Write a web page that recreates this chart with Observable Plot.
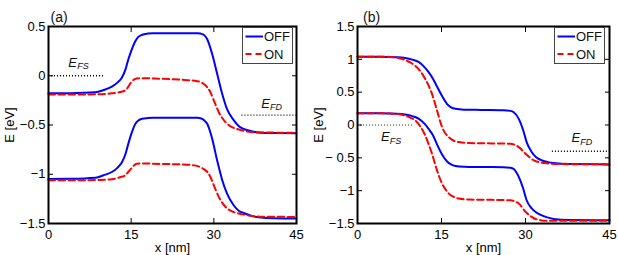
<!DOCTYPE html>
<html>
<head>
<meta charset="utf-8">
<script src="https://cdn.jsdelivr.net/npm/d3@7"></script>
<script src="https://cdn.jsdelivr.net/npm/@observablehq/plot@0.6"></script>
<style>
  html, body { margin: 0; padding: 0; background: #fff; }
  #wrap { position: relative; width: 618px; height: 255px; display: flex; font-family: "Liberation Sans", Arial, sans-serif; }
  .panel { position: relative; width: 309px; height: 255px; }
  .legend { position: absolute; top: 27px; }
</style>
</head>
<body>
<div id="wrap">
  <div class="panel" id="pa"></div>
  <div class="panel" id="pb"></div>
</div>
<script>
// ---------- shared ----------
const xTicks = [0, 15, 30, 45];
const legendLabels = ["OFF", "ON"];
const panelTitles = ["(a)", "(b)"];
const xLabel = "x [nm]";
const yLabel = "E [eV]";

// ---------- panel (a) ----------
const yTicksA = [-1.5, -1, -0.5, 0, 0.5];
const yTickLabelsA = ["−1.5", "−1", "−0.5", "0", "0.5"];

const aOffX     = [0, 4, 8.5, 10, 11.5, 12.5, 13.3, 14, 14.4, 15, 15.75, 16.3, 17, 18, 19, 27, 27.6, 28.3, 28.8, 29.7, 30.6, 31.5, 32.4, 33.6, 34.5, 35.4, 37, 38.5, 41, 45];
const aOffUpper = [-0.178, -0.177, -0.168, -0.145, -0.11, -0.07, -0.02, 0.07, 0.15, 0.25, 0.35, 0.395, 0.416, 0.428, 0.432, 0.432, 0.428, 0.41, 0.37, 0.22, 0.02, -0.18, -0.34, -0.45, -0.51, -0.54, -0.565, -0.578, -0.582, -0.583];
const aOffLower = [-1.048, -1.046, -1.035, -1.01, -0.977, -0.935, -0.88, -0.79, -0.707, -0.595, -0.49, -0.455, -0.437, -0.43, -0.427, -0.427, -0.432, -0.455, -0.488, -0.64, -0.86, -1.055, -1.196, -1.315, -1.37, -1.393, -1.425, -1.44, -1.447, -1.45];

const aOnX     = [0, 5, 9, 11.5, 13, 13.9, 14.5, 15, 15.5, 16, 17, 20, 24, 26.5, 27.8, 28.8, 29.4, 30, 30.9, 32.1, 33.2, 34.2, 35.5, 37.2, 40, 45];
const aOnUpper = [-0.19, -0.19, -0.188, -0.178, -0.165, -0.15, -0.11, -0.066, -0.04, -0.028, -0.025, -0.03, -0.04, -0.05, -0.07, -0.117, -0.17, -0.25, -0.37, -0.47, -0.52, -0.54, -0.56, -0.573, -0.577, -0.578];
const aOnLower = [-1.062, -1.062, -1.058, -1.05, -1.03, -1.011, -0.975, -0.943, -0.91, -0.893, -0.89, -0.895, -0.9, -0.91, -0.935, -0.977, -1.03, -1.112, -1.23, -1.33, -1.375, -1.393, -1.41, -1.426, -1.432, -1.433];

const fermiA = [
  {sub: "FS", level: 0,    from: 0,    to: 10, labelX: 3.6,  labelY: 0.136},
  {sub: "FD", level: -0.4, from: 35.1, to: 45, labelX: 38.6, labelY: -0.28}
];

// ---------- panel (b) ----------
const yTicksB = [-1.5, -1, -0.5, 0, 0.5, 1, 1.5];
const yTickLabelsB = ["−1.5", "−1", "− 0.5", "0", "0.5", "1", "1.5"];

const bOffX     = [0, 4, 7, 8.5, 9.8, 10.9, 12, 12.7, 13.5, 14.2, 15.1, 16, 16.7, 17.5, 19, 22, 26, 27.3, 27.9, 28.8, 29.6, 30.2, 31.1, 31.9, 32.7, 34, 35, 38, 45];
const bOffUpper = [1.04, 1.04, 1.032, 1.02, 0.995, 0.96, 0.878, 0.805, 0.7, 0.585, 0.44, 0.319, 0.27, 0.246, 0.234, 0.23, 0.226, 0.215, 0.195, 0.094, -0.083, -0.26, -0.41, -0.49, -0.53, -0.565, -0.58, -0.595, -0.6];
const bOffLower = [0.18, 0.18, 0.172, 0.16, 0.135, 0.098, 0.016, -0.06, -0.16, -0.295, -0.45, -0.555, -0.6, -0.624, -0.636, -0.64, -0.642, -0.65, -0.67, -0.79, -0.97, -1.146, -1.27, -1.33, -1.37, -1.41, -1.43, -1.445, -1.45];

const bOnX     = [0, 5, 6.7, 8.5, 9.5, 10.3, 11.2, 12.1, 12.7, 13.3, 14.2, 15.1, 15.7, 16.3, 17.2, 18.1, 20, 24, 27.3, 28, 28.8, 30, 31.5, 32.7, 33.9, 36, 45];
const bOnUpper = [1.04, 1.04, 1.03, 0.99, 0.95, 0.9, 0.82, 0.7, 0.6, 0.474, 0.22, -0.03, -0.13, -0.185, -0.24, -0.26, -0.275, -0.28, -0.286, -0.3, -0.337, -0.437, -0.539, -0.57, -0.585, -0.595, -0.6];
const bOnLower = [0.18, 0.178, 0.17, 0.144, 0.11, 0.07, -0.02, -0.16, -0.29, -0.437, -0.69, -0.893, -0.98, -1.045, -1.095, -1.12, -1.135, -1.14, -1.146, -1.16, -1.196, -1.32, -1.42, -1.45, -1.46, -1.46, -1.46];

const fermiB = [
  {sub: "FS", level: 0,    from: 0,    to: 10, labelX: 4.2,  labelY: -0.178},
  {sub: "FD", level: -0.4, from: 34.8, to: 45, labelX: 38.2, labelY: -0.196}
];

// ---------- helpers ----------
function rows(xs, ys, band) {
  return xs.map((x, i) => ({x, e: ys[i], band}));
}

const FONT = "Liberation Sans, Arial, Helvetica, sans-serif";
const BLUE = "#0000ff";
const RED = "#ff0000";

function panel(cfg) {
  const off = rows(cfg.offX, cfg.offUpper, "u").concat(rows(cfg.offX, cfg.offLower, "l"));
  const on = rows(cfg.onX, cfg.onUpper, "u").concat(rows(cfg.onX, cfg.onLower, "l"));
  const labelMap = new Map(cfg.yTicks.map((t, i) => [t, cfg.yTickLabels[i]]));
  return Plot.plot({
    width: 309,
    height: 255,
    marginLeft: 48,
    marginRight: cfg.marginRight,
    marginTop: 26,
    marginBottom: 32,
    style: {fontFamily: FONT, fontSize: "13px", background: "white", color: "black"},
    x: {domain: [0, 45]},
    y: {domain: cfg.yDomain},
    marks: [
      Plot.ruleY(cfg.fermi, {y: "level", x1: "from", x2: "to", stroke: d => d.sub === "FS" ? cfg.fsColor : "#000", strokeWidth: 1.3, strokeDasharray: "1,2"}),
      Plot.text(cfg.fermi, {x: "labelX", y: "labelY", text: () => "E", fontStyle: "italic", fontSize: 13, textAnchor: "start", fill: "#111"}),
      Plot.text(cfg.fermi, {x: "labelX", y: "labelY", text: "sub", fontStyle: "italic", fontSize: 9, textAnchor: "start", dx: 8.8, dy: 4, fill: "#111"}),
      Plot.line(off, {x: "x", y: "e", z: "band", stroke: BLUE, strokeWidth: 2, curve: "monotone-x"}),
      Plot.line(on, {x: "x", y: "e", z: "band", stroke: RED, strokeWidth: 2, strokeDasharray: "6.5,3.5", curve: "monotone-x"}),
      Plot.axisX({anchor: "bottom", ticks: xTicks, tickSize: -5, tickPadding: 11, fontSize: 13, label: xLabel, labelAnchor: "center", labelArrow: "none", labelOffset: 28}),
      Plot.axisX({anchor: "top", ticks: xTicks, tickSize: -5, tickFormat: () => "", label: null}),
      Plot.axisY({anchor: "left", ticks: cfg.yTicks, tickSize: -5, tickPadding: 8, fontSize: 13, tickFormat: d => labelMap.get(d), label: yLabel, labelAnchor: "center", labelArrow: "none", labelOffset: 44}),
      Plot.axisY({anchor: "right", ticks: cfg.yTicks, tickSize: -5, tickFormat: () => "", label: null}),
      Plot.frame({stroke: "black", strokeWidth: 2}),
      Plot.text([cfg.title], {frameAnchor: "top-left", text: d => d, textAnchor: "start", lineAnchor: "bottom", dx: cfg.titleDx, dy: -4.7, fontSize: 14, fill: "#111"})
    ]
  });
}

function legend(left) {
  const svg = d3.create("svg")
    .attr("class", "legend")
    .attr("width", 51).attr("height", 37)
    .style("left", left + "px")
    .style("font-family", FONT)
    .style("font-size", "13px");
  svg.append("rect").attr("x", 0.5).attr("y", 0.5).attr("width", 50).attr("height", 36)
    .attr("fill", "white").attr("stroke", "#444").attr("stroke-width", 1);
  const entries = [
    {label: legendLabels[0], color: BLUE, dash: null, y: 9.5},
    {label: legendLabels[1], color: RED, dash: "6,4", y: 27}
  ];
  for (const e of entries) {
    svg.append("line").attr("x1", 3.5).attr("x2", 21).attr("y1", e.y).attr("y2", e.y)
      .attr("stroke", e.color).attr("stroke-width", 2).attr("stroke-dasharray", e.dash);
    svg.append("text").attr("x", 22).attr("y", e.y + 4.7).attr("fill", "#111").text(e.label);
  }
  return svg.node();
}

const pa = document.getElementById("pa");
pa.appendChild(panel({
  offX: aOffX, offUpper: aOffUpper, offLower: aOffLower,
  onX: aOnX, onUpper: aOnUpper, onLower: aOnLower,
  yDomain: [-1.5, 0.5], yTicks: yTicksA, yTickLabels: yTickLabelsA,
  fermi: fermiA, fsColor: "#000", marginRight: 13, title: panelTitles[0], titleDx: 2
}));
pa.appendChild(legend(242));

const pb = document.getElementById("pb");
pb.appendChild(panel({
  offX: bOffX, offUpper: bOffUpper, offLower: bOffLower,
  onX: bOnX, onUpper: bOnUpper, onLower: bOnLower,
  yDomain: [-1.5, 1.5], yTicks: yTicksB, yTickLabels: yTickLabelsB,
  fermi: fermiB, fsColor: "#777", marginRight: 9, title: panelTitles[1], titleDx: 5.5
}));
pb.appendChild(legend(554 - 309));
</script>
</body>
</html>
